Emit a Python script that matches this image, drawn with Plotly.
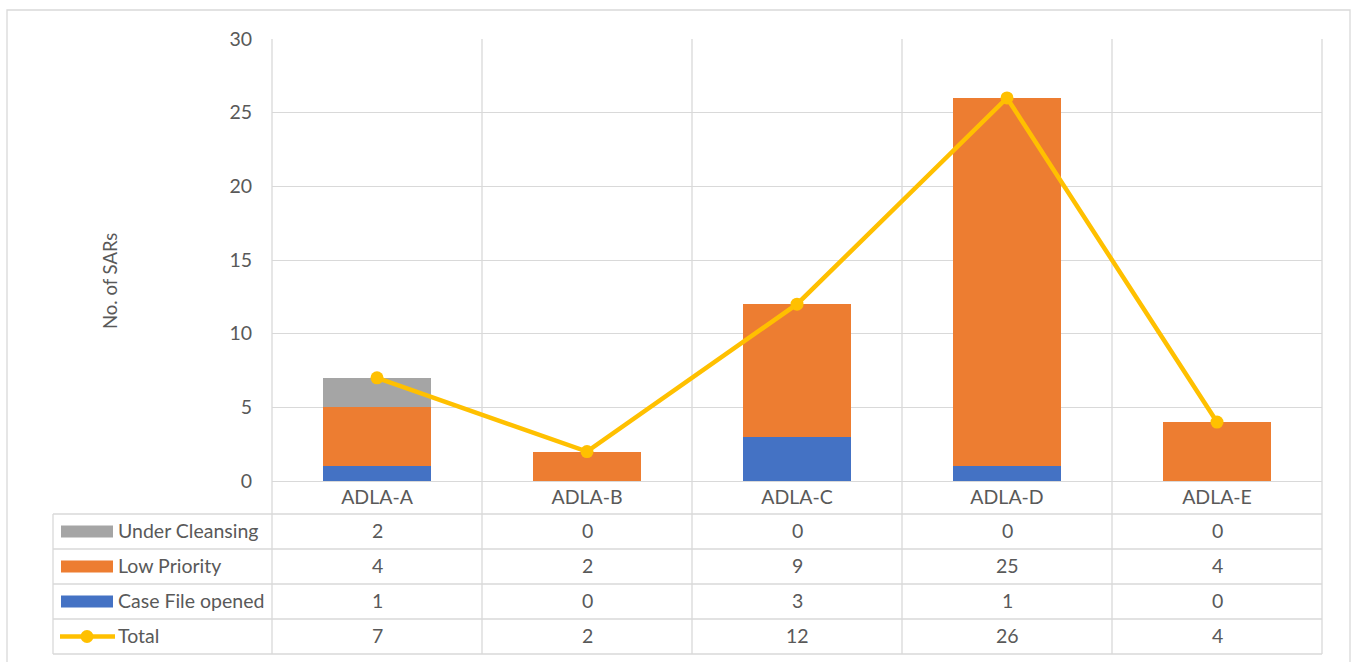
import plotly.graph_objects as go

categories = ["ADLA-A", "ADLA-B", "ADLA-C", "ADLA-D", "ADLA-E"]
case_file_opened = [1, 0, 3, 1, 0]
low_priority = [4, 2, 9, 25, 4]
under_cleansing = [2, 0, 0, 0, 0]
total = [7, 2, 12, 26, 4]
y_ticks = [0, 5, 10, 15, 20, 25, 30]

W, H = 1353, 662
FONT = "Lato, sans-serif"
TXT = "#595959"
GRID = "#d9d9d9"
FS = 19.5

def px(x):
    return x / W

def py(y):
    return 1 - y / H

PL, PR, PT, PB = 272, 1322, 39, 481
ROW_TOP = 514
ROW_H = 35
TABLE_L = 53

fig = go.Figure()
fig.add_trace(go.Bar(x=categories, y=case_file_opened, name="Case File opened",
                     marker=dict(color="#4472C4", line=dict(width=0))))
fig.add_trace(go.Bar(x=categories, y=low_priority, name="Low Priority",
                     marker=dict(color="#ED7D31", line=dict(width=0))))
fig.add_trace(go.Bar(x=categories, y=under_cleansing, name="Under Cleansing",
                     marker=dict(color="#A5A5A5", line=dict(width=0))))
fig.add_trace(go.Scatter(x=categories, y=total, name="Total", mode="lines+markers",
                         line=dict(color="#FFC000", width=4.5),
                         marker=dict(color="#FFC000", size=13)))

shapes = []
shapes.append(dict(type="rect", xref="paper", yref="paper",
                   x0=px(7), x1=px(1350), y0=py(675), y1=py(10),
                   line=dict(color=GRID, width=1.3), fillcolor="rgba(0,0,0,0)", layer="below"))
n = len(categories)
cw = (PR - PL) / n
for i in range(n + 1):
    xx = PL + i * cw
    shapes.append(dict(type="line", xref="paper", yref="paper",
                       x0=px(xx), x1=px(xx), y0=py(PT), y1=py(ROW_TOP + 4 * ROW_H),
                       line=dict(color=GRID, width=1.3), layer="below"))
shapes.append(dict(type="line", xref="paper", yref="paper",
                   x0=px(TABLE_L), x1=px(TABLE_L), y0=py(ROW_TOP), y1=py(ROW_TOP + 4 * ROW_H),
                   line=dict(color=GRID, width=1.3)))
for r in range(5):
    yy = ROW_TOP + r * ROW_H
    shapes.append(dict(type="line", xref="paper", yref="paper",
                       x0=px(TABLE_L), x1=px(PR), y0=py(yy), y1=py(yy),
                       line=dict(color=GRID, width=1.3)))

rows = [("Under Cleansing", under_cleansing, "#A5A5A5", "bar"),
        ("Low Priority", low_priority, "#ED7D31", "bar"),
        ("Case File opened", case_file_opened, "#4472C4", "bar"),
        ("Total", total, "#FFC000", "line")]

annotations = []
for r, (label, vals, color, kind) in enumerate(rows):
    yc = ROW_TOP + r * ROW_H + ROW_H / 2
    if kind == "bar":
        shapes.append(dict(type="rect", xref="paper", yref="paper",
                           x0=px(61), x1=px(113), y0=py(yc - 6), y1=py(yc + 6),
                           fillcolor=color, line=dict(width=0)))
    else:
        shapes.append(dict(type="line", xref="paper", yref="paper",
                           x0=px(60), x1=px(115), y0=py(yc), y1=py(yc),
                           line=dict(color=color, width=4.5)))
        shapes.append(dict(type="circle", xref="paper", yref="paper",
                           x0=px(87 - 6.5), x1=px(87 + 6.5), y0=py(yc - 6.5), y1=py(yc + 6.5),
                           fillcolor=color, line=dict(width=0)))
    annotations.append(dict(xref="paper", yref="paper", x=px(116), y=py(yc - 1),
                            text=label, showarrow=False, xanchor="left", yanchor="middle",
                            font=dict(family=FONT, size=FS, color=TXT)))
    for c, v in zip(categories, vals):
        annotations.append(dict(xref="x", yref="paper", x=c, y=py(yc - 1),
                                text=str(v), showarrow=False, xanchor="center", yanchor="middle",
                                font=dict(family=FONT, size=FS, color=TXT)))

annotations.append(dict(xref="paper", yref="paper", x=px(110), y=py(281),
                        text="No. of SARs", showarrow=False, textangle=-90,
                        xanchor="center", yanchor="middle",
                        font=dict(family=FONT, size=18.5, color=TXT)))

fig.update_layout(
    width=W, height=H,
    margin=dict(l=0, r=0, t=0, b=0, pad=0),
    paper_bgcolor="white", plot_bgcolor="white",
    barmode="stack", bargap=0.486,
    showlegend=False,
    font=dict(family=FONT, color=TXT),
    xaxis=dict(domain=[px(PL), px(PR)], type="category", showgrid=False, automargin=False,
               showline=True, linecolor=GRID, linewidth=1.3,
               ticks="", tickfont=dict(family=FONT, size=FS, color=TXT),
               ticklabelstandoff=-2),
    yaxis=dict(domain=[py(PB), py(PT)], range=[0, 30], tickvals=y_ticks, automargin=False,
               showgrid=True, gridcolor=GRID, gridwidth=1.3, zeroline=False,
               showline=False, ticks="", tickfont=dict(family=FONT, size=FS, color=TXT),
               ticklabelstandoff=19),
    shapes=shapes,
    annotations=annotations,
)

fig.write_html("out.html", config={"displayModeBar": False},
               post_script="document.body.style.margin='0';document.body.style.overflow='hidden';")
